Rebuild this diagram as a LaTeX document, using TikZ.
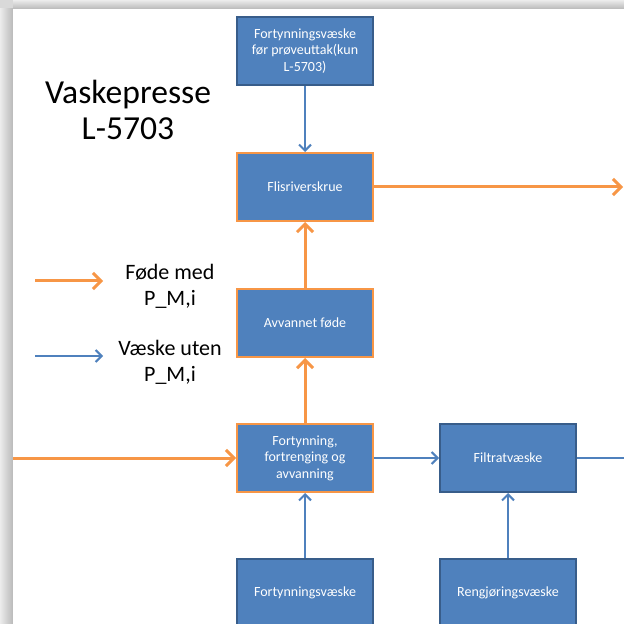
\documentclass[tikz,border=0pt]{standalone}
\usepackage{fontspec}
\setmainfont{Carlito}
\usetikzlibrary{arrows.meta}
\definecolor{boxblue}{HTML}{4F81BD}
\definecolor{edgeblue}{HTML}{385D8A}
\definecolor{feedorange}{HTML}{F79646}
\tikzset{
  unit/.style={rectangle, fill=boxblue, draw=edgeblue, line width=1pt,
    minimum width=68pt, minimum height=34pt, text=white, align=center,
    inner sep=1pt, font=\fontsize{7}{8.3}\selectfont},
  feedunit/.style={unit, draw=feedorange},
  feed/.style={draw=feedorange, line width=1.5pt, -{Straight Barb[length=4pt,width=8pt]}},
  liquid/.style={draw=boxblue, line width=1pt, -{Straight Barb[length=3pt,width=6pt]}}
}
\begin{document}
\begin{tikzpicture}[x=0.5pt,y=-0.5pt]
\useasboundingbox (0,0) rectangle (624,624);
\clip (0,0) rectangle (624,624);
% slide shadow
\fill[gray!30] (0,0) rectangle (13,9);
\shade[left color=gray!15, right color=gray!55] (0,9) rectangle (13,624);
\shade[top color=gray!15, bottom color=gray!55] (13,0) rectangle (624,9);
\fill[white] (13,9) rectangle (624,624);

% title and legend
\node[font=\fontsize{16.8}{18}\selectfont, align=center] (title) at (128,110) {Vaskepresse\\L-5703};
\coordinate (legA1) at (35,281);
\coordinate (legA2) at (103,281);
\coordinate (legB1) at (35,356);
\coordinate (legB2) at (103,356);
\draw[feed] (legA1) -- (legA2);
\draw[liquid] (legB1) -- (legB2);
\node[font=\fontsize{11}{13}\selectfont, align=center] (legfeed) at (170,286) {Føde med\\P\_M,i};
\node[font=\fontsize{11}{13}\selectfont, align=center] (legliq) at (170,362) {Væske uten\\P\_M,i};

% units
\node[unit] (dilsample) at (305,51) {Fortynningsvæske\\før prøveuttak(kun\\L-5703)};
\node[feedunit] (shredder) at (305,187) {Flisriverskrue};
\node[feedunit] (dewfeed) at (305,323) {Avvannet føde};
\node[feedunit] (press) at (305,458) {Fortynning,\\fortrenging og\\avvanning};
\node[unit] (filtrate) at (508,458) {Filtratvæske};
\node[unit] (dilution) at (305,593) {Fortynningsvæske};
\node[unit] (cleaning) at (508,593) {Rengjøringsvæske};

% connectors
\coordinate (feedin) at (13,458);
\coordinate (feedout) at (623,187);
\coordinate (filtout) at (650,458);
\draw[liquid] (dilsample) -- (shredder);
\draw[feed] (dewfeed) -- (shredder);
\draw[feed] (press) -- (dewfeed);
\draw[feed] (feedin) -- (press);
\draw[feed] (shredder) -- (feedout);
\draw[liquid] (press) -- (filtrate);
\draw[liquid] (filtrate) -- (filtout);
\draw[liquid] (dilution) -- (press);
\draw[liquid] (cleaning) -- (filtrate);
\end{tikzpicture}
\end{document}
